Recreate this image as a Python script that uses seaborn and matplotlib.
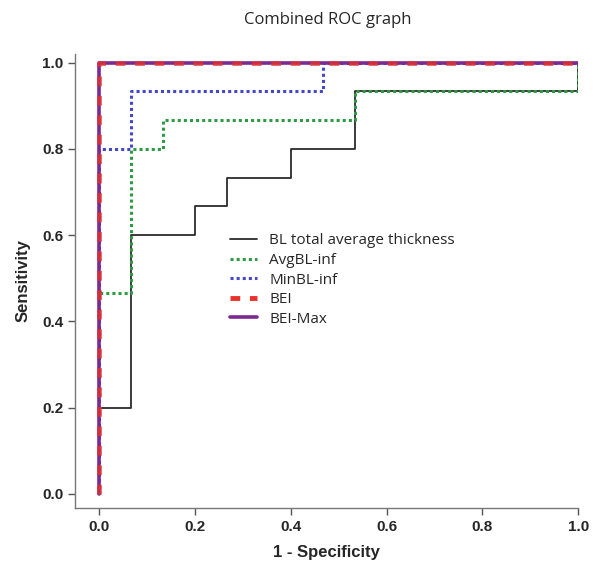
import pandas as pd
import matplotlib.pyplot as plt
import seaborn as sns

# === ROC coordinates (1 - specificity, sensitivity) ===
bl_fpr = [0, 0, 0.0667, 0.0667, 0.2, 0.2, 0.2667, 0.2667, 0.4, 0.4, 0.5333, 0.5333, 1, 1]
bl_tpr = [0, 0.2, 0.2, 0.6, 0.6, 0.6667, 0.6667, 0.7333, 0.7333, 0.8, 0.8, 0.9333, 0.9333, 1]

avg_fpr = [0, 0, 0.0667, 0.0667, 0.1333, 0.1333, 0.5333, 0.5333, 1, 1]
avg_tpr = [0, 0.4667, 0.4667, 0.8, 0.8, 0.8667, 0.8667, 0.9333, 0.9333, 1]

min_fpr = [0, 0, 0.0667, 0.0667, 0.4667, 0.4667, 1]
min_tpr = [0, 0.8, 0.8, 0.9333, 0.9333, 1, 1]

bei_fpr = [0, 0, 1]
bei_tpr = [0, 1, 1]

beimax_fpr = [0, 0, 1]
beimax_tpr = [0, 1, 1]

curvas = ['BL total average thickness', 'AvgBL-inf', 'MinBL-inf', 'BEI', 'BEI-Max']
dados = [(bl_fpr, bl_tpr), (avg_fpr, avg_tpr), (min_fpr, min_tpr),
         (bei_fpr, bei_tpr), (beimax_fpr, beimax_tpr)]

estilos = {
    'BL total average thickness': dict(color='#2b2b2b', lw=1.3, ls='-', a=1),
    'AvgBL-inf': dict(color='#2f9a44', lw=2.2, ls=(0, (1, 1)), a=1),
    'MinBL-inf': dict(color='#4646c8', lw=2.2, ls=(0, (1, 1)), a=1),
    'BEI': dict(color='#e8322c', lw=3.5, ls=(0, (2, 2)), a=0.75),
    'BEI-Max': dict(color='#7a2a90', lw=2.6, ls='-', a=1),
}

sns.set_style('white')
plt.rcParams['font.family'] = ['Liberation Sans', 'DejaVu Sans']

fig = plt.figure(figsize=(6.01, 5.74), dpi=100)
ax = fig.add_axes([0.125, 0.115, 0.837, 0.791])

# roxo primeiro para os traços vermelhos ficarem por cima
ordem = ['BL total average thickness', 'AvgBL-inf', 'MinBL-inf', 'BEI-Max', 'BEI']
z = {'BL total average thickness': 3, 'AvgBL-inf': 4, 'MinBL-inf': 5, 'BEI-Max': 6, 'BEI': 7}
handles = {}
for nome in ordem:
    fpr, tpr = dados[curvas.index(nome)]
    df = pd.DataFrame({'fpr': fpr, 'tpr': tpr})
    st = estilos[nome]
    sns.lineplot(data=df, x='fpr', y='tpr', sort=False, estimator=None, ax=ax,
                 color=st['color'], linewidth=st['lw'], alpha=st['a'], zorder=z[nome])
    linha = ax.lines[-1]
    linha.set_linestyle(st['ls'])
    linha.set_label(nome)
    handles[nome] = linha

ax.set_xlim(-0.05, 1.0)
ax.set_ylim(-0.033, 1.02)
ax.set_xticks([0, 0.2, 0.4, 0.6, 0.8, 1.0])
ax.set_yticks([0, 0.2, 0.4, 0.6, 0.8, 1.0])
ax.set_xticklabels(['0.0', '0.2', '0.4', '0.6', '0.8', '1.0'], fontweight='bold', fontsize=11)
ax.set_yticklabels(['0.0', '0.2', '0.4', '0.6', '0.8', '1.0'], fontweight='bold', fontsize=11)
ax.tick_params(direction='out', length=5, width=1, color='#555555', bottom=True, left=True)
for lado in ['top', 'right']:
    ax.spines[lado].set_visible(False)
for lado in ['left', 'bottom']:
    ax.spines[lado].set_color('#777777')
    ax.spines[lado].set_linewidth(1)

ax.set_xlabel('1 - Specificity', fontweight='bold', fontsize=12, labelpad=8)
ax.set_ylabel('Sensitivity', fontweight='bold', fontsize=12, labelpad=8)
fig.text(0.545, 0.966, 'Combined ROC graph', ha='center', va='center',
         fontsize=12, family=['Open Sans', 'DejaVu Sans'])

leg = ax.legend([handles[n] for n in curvas], curvas, loc='upper left',
                bbox_to_anchor=(0.28, 0.635), frameon=False,
                handlelength=1.8, labelspacing=0.3, handletextpad=0.8,
                prop={'family': ['Open Sans', 'DejaVu Sans'], 'size': 11})
# handle do BEI na legenda sem transparência
leg.legend_handles[3].set_alpha(1)

fig.savefig('out.png', dpi=100)
